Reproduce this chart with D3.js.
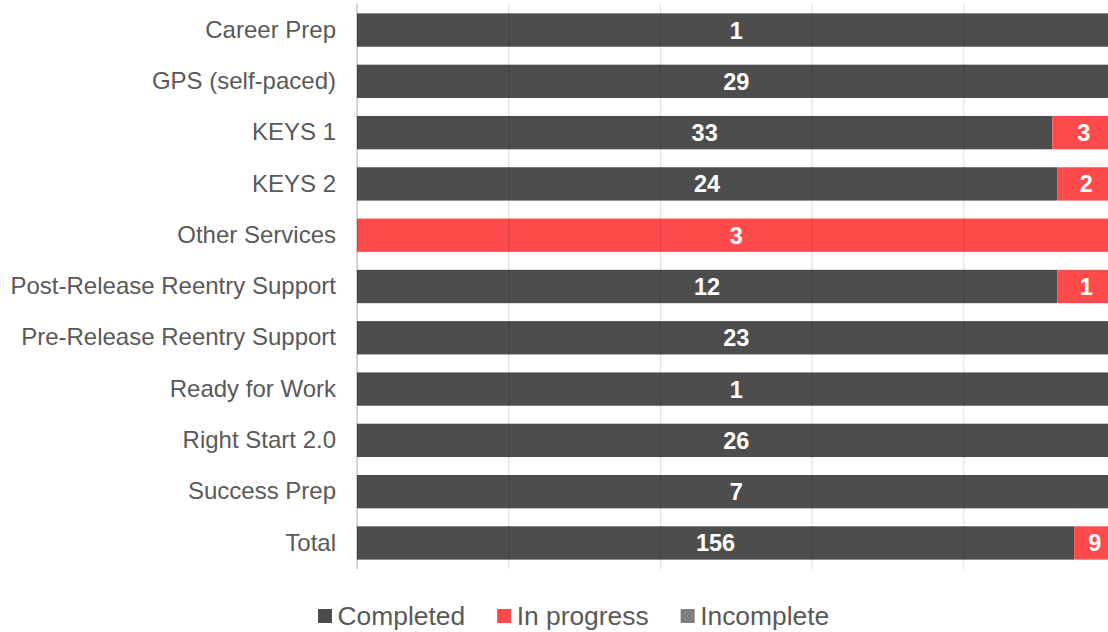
<!DOCTYPE html>
<html><head><meta charset="utf-8">
<script src="https://cdn.jsdelivr.net/npm/d3@7"></script>
<style>body{margin:0;background:#fff;}svg{display:block;}</style>
</head><body>
<svg id="c" width="1108" height="632"></svg>
<script>
const categories = ["Career Prep","GPS (self-paced)","KEYS 1","KEYS 2","Other Services","Post-Release Reentry Support","Pre-Release Reentry Support","Ready for Work","Right Start 2.0","Success Prep","Total"];
const completed  = [1,29,33,24,0,12,23,1,26,7,156];
const inProgress = [0,0,3,2,3,1,0,0,0,0,9];
const incomplete = [0,0,0,0,0,0,0,0,0,0,0];
const seriesNames = ["Completed","In progress","Incomplete"];
const seriesColors = ["#4d4d4d","#ff4b4b","#808080"];
const xTicks = [0,0.2,0.4,0.6,0.8,1];

const svg = d3.select("#c");
const font = "'Liberation Sans', Arial, sans-serif";
const x = d3.scaleLinear().domain([0,1]).range([357,1115.5]);
const y = d3.scaleBand().domain(categories).range([4.4,568.6]).paddingInner(0.35).paddingOuter(0.175);

const rows = categories.map((c,i)=>({cat:c, vals:[completed[i],inProgress[i],incomplete[i]]}));
const keys = [0,1,2];
const table = rows.map(r=>{const t=d3.sum(r.vals);const o={cat:r.cat};keys.forEach(k=>o[k]=r.vals[k]/t);o.raw=r.vals;return o;});
const stack = d3.stack().keys(keys)(table);

const g = svg.append("g");
stack.forEach((layer,si)=>{
  g.selectAll(null).data(layer).join("rect")
    .attr("x",d=>x(d[0])).attr("width",d=>x(d[1])-x(d[0]))
    .attr("y",d=>y(d.data.cat)).attr("height",y.bandwidth())
    .attr("fill",seriesColors[si]);
});
// gridlines over bars (translucent)
svg.append("g").selectAll("line").data(xTicks).join("line")
  .attr("x1",d=>x(d)).attr("x2",d=>x(d)).attr("y1",4).attr("y2",569)
  .attr("stroke","#000").attr("stroke-opacity",d=>d===0?0.22:0.12).attr("stroke-width",d=>d===0?1.5:1.2);
// value labels
stack.forEach((layer,si)=>{
  g.selectAll(null).data(layer.filter(d=>d.data.raw[si]>0)).join("text")
    .attr("x",d=>(x(d[0])+x(d[1]))/2).attr("y",d=>y(d.data.cat)+y.bandwidth()/2)
    .attr("dy","0.36em").attr("text-anchor","middle")
    .attr("font-family",font).attr("font-weight","bold").attr("font-size",23.5)
    .attr("fill","#fff").text(d=>d.data.raw[si]);
});
// category axis
const ax = svg.append("g").attr("transform","translate(357,0)").call(d3.axisLeft(y).tickSize(0).tickPadding(21));
ax.select(".domain").remove();
ax.selectAll("text").attr("font-family",font).attr("font-size",24).attr("fill","#595959");

// legend
const leg = svg.append("g");
const items = seriesNames.map((n,i)=>({n,c:seriesColors[i]}));
let lx = 318;
const ly = 616;
items.forEach((it,i)=>{
  const gi = leg.append("g");
  gi.append("rect").attr("x",lx).attr("y",ly-7).attr("width",14).attr("height",14).attr("fill",it.c);
  const t = gi.append("text").attr("x",lx+19.5).attr("y",ly).attr("dy","0.34em")
    .attr("font-family",font).attr("font-size",26.4).attr("fill","#595959").text(it.n);
  lx += 19.5 + t.node().getComputedTextLength() + 32;
});
</script>
</body></html>
